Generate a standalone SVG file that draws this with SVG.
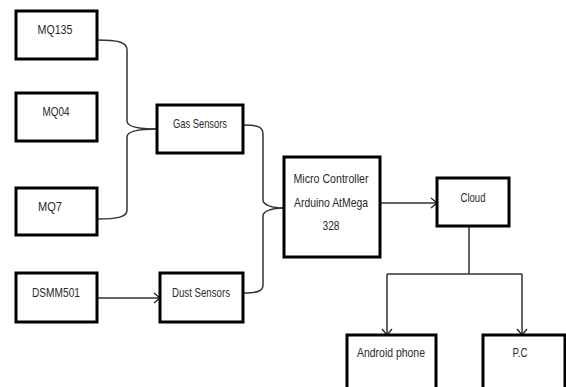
<svg xmlns="http://www.w3.org/2000/svg" width="566" height="387" viewBox="0 0 566 387">
<defs>
<marker id="arr" markerWidth="10" markerHeight="12" refX="9" refY="6" orient="auto" markerUnits="userSpaceOnUse">
<path d="M3,1 L9,6 L3,11" fill="none" stroke="#222" stroke-width="1.3"/>
</marker>
</defs>
<style>
.box{fill:#fff;stroke:#000;stroke-width:3}
.t{font-family:"Liberation Sans",Arial,sans-serif;font-size:13.5px;fill:#2a2a2a;text-anchor:middle}
.c{fill:none;stroke:#333;stroke-width:1.5}
</style>
<rect width="566" height="387" fill="#fff"/>
<g id="connectors">
<path class="c" d="M97,40 C118,40 127,42 127,50 L127,121 C127,127 138,129 157,129"/>
<path class="c" d="M97,219 C118,219 127,217 127,210 L127,137 C127,131 138,129 157,129"/>
<path class="c" d="M243,125 C258,125 263,127 263,134 L263,200 C263,205 272,208 284,208"/>
<path class="c" d="M243,293 C258,293 263,291 263,285 L263,216 C263,211 272,208 284,208"/>
<path class="c" d="M97,298 L160,298" marker-end="url(#arr)"/>
<path class="c" d="M380,203 L437,203" marker-end="url(#arr)"/>
<path class="c" d="M469,226 L469,274"/>
<path class="c" d="M387,274 L522,274"/>
<path class="c" d="M387,274 L387,335" marker-end="url(#arr)"/>
<path class="c" d="M522,274 L522,335" marker-end="url(#arr)"/>
</g>
<g id="mq135"><rect class="box" x="16" y="11" width="81" height="48"/><text class="t" x="55" y="34" textLength="35" lengthAdjust="spacingAndGlyphs">MQ135</text></g>
<g id="mq04"><rect class="box" x="16" y="93" width="81" height="48"/><text class="t" x="56" y="116" textLength="27" lengthAdjust="spacingAndGlyphs">MQ04</text></g>
<g id="mq7"><rect class="box" x="16" y="188" width="81" height="47"/><text class="t" x="50" y="211" textLength="24" lengthAdjust="spacingAndGlyphs">MQ7</text></g>
<g id="dsmm501"><rect class="box" x="16" y="273" width="81" height="49"/><text class="t" x="56" y="297" textLength="48" lengthAdjust="spacingAndGlyphs">DSMM501</text></g>
<g id="gas"><rect class="box" x="157" y="105" width="86" height="48"/><text class="t" x="200" y="128" textLength="54" lengthAdjust="spacingAndGlyphs">Gas Sensors</text></g>
<g id="dust"><rect class="box" x="160" y="273" width="83" height="49"/><text class="t" x="201" y="297" textLength="58" lengthAdjust="spacingAndGlyphs">Dust Sensors</text></g>
<g id="micro"><rect class="box" x="284" y="157" width="96" height="100"/>
<text class="t" x="331" y="183" textLength="75" lengthAdjust="spacingAndGlyphs">Micro Controller</text>
<text class="t" x="331" y="207" textLength="74" lengthAdjust="spacingAndGlyphs">Arduino AtMega</text>
<text class="t" x="331" y="230" textLength="17" lengthAdjust="spacingAndGlyphs">328</text></g>
<g id="cloud"><rect class="box" x="437" y="178" width="72" height="48"/><text class="t" x="473" y="202" textLength="25" lengthAdjust="spacingAndGlyphs">Cloud</text></g>
<g id="android"><rect class="box" x="347" y="335" width="89" height="60"/><text class="t" x="391" y="357" textLength="68" lengthAdjust="spacingAndGlyphs">Android phone</text></g>
<g id="pc"><rect class="box" x="483" y="335" width="82" height="60"/><text class="t" x="520" y="357" textLength="15" lengthAdjust="spacingAndGlyphs">P.C</text></g>
</svg>
